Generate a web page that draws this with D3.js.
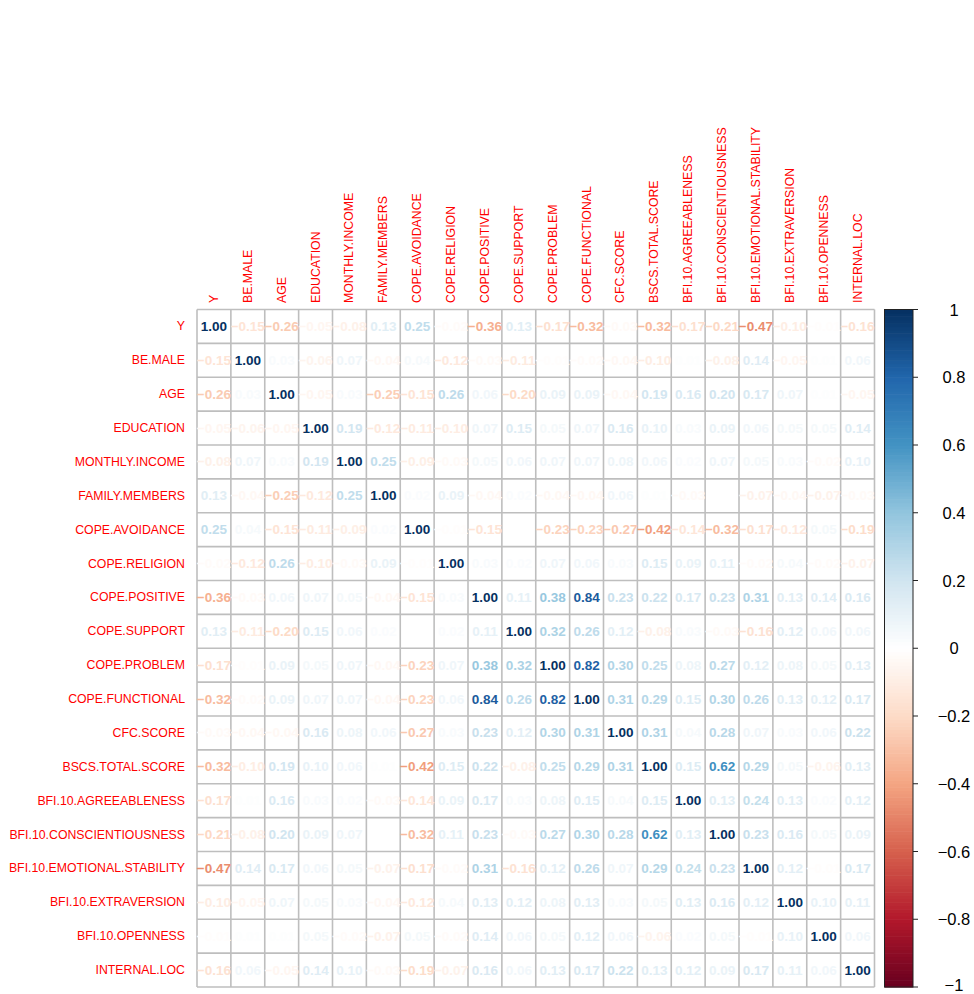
<!DOCTYPE html>
<html>
<head>
<meta charset="utf-8">
<script src="https://cdn.jsdelivr.net/npm/d3@7"></script>
<style>
  html, body { margin: 0; padding: 0; background: #fff; }
  svg { display: block; }
  text { font-family: "Liberation Sans", Arial, Helvetica, sans-serif; }
</style>
</head>
<body>
<svg id="chart" width="974" height="994"></svg>
<script>
// ---- data ----
const variables = ["Y","BE.MALE","AGE","EDUCATION","MONTHLY.INCOME","FAMILY.MEMBERS",
  "COPE.AVOIDANCE","COPE.RELIGION","COPE.POSITIVE","COPE.SUPPORT","COPE.PROBLEM",
  "COPE.FUNCTIONAL","CFC.SCORE","BSCS.TOTAL.SCORE","BFI.10.AGREEABLENESS",
  "BFI.10.CONSCIENTIOUSNESS","BFI.10.EMOTIONAL.STABILITY","BFI.10.EXTRAVERSION",
  "BFI.10.OPENNESS","INTERNAL.LOC"];

// lower triangle of the correlation matrix (row i holds columns 0..i)
const lowerTriangle = [
  [1],
  [-0.15, 1],
  [-0.26, 0.03, 1],
  [-0.05, -0.06, -0.05, 1],
  [-0.08, 0.07, 0.03, 0.19, 1],
  [0.13, -0.04, -0.25, -0.12, 0.25, 1],
  [0.25, 0.04, -0.15, -0.11, -0.09, 0.02, 1],
  [-0.02, -0.12, 0.26, -0.10, -0.03, 0.09, -0.01, 1],
  [-0.36, -0.03, 0.06, 0.07, 0.05, -0.04, -0.15, 0.03, 1],
  [0.13, -0.11, -0.20, 0.15, 0.06, 0.02, 0.00, 0.02, 0.11, 1],
  [-0.17, -0.01, 0.09, 0.05, 0.07, -0.04, -0.23, 0.07, 0.38, 0.32, 1],
  [-0.32, -0.02, 0.09, 0.07, 0.07, -0.04, -0.23, 0.06, 0.84, 0.26, 0.82, 1],
  [-0.03, -0.04, -0.04, 0.16, 0.08, 0.06, -0.27, 0.03, 0.23, 0.12, 0.30, 0.31, 1],
  [-0.32, -0.10, 0.19, 0.10, 0.06, 0.01, -0.42, 0.15, 0.22, -0.08, 0.25, 0.29, 0.31, 1],
  [-0.17, 0.01, 0.16, 0.03, 0.02, -0.03, -0.14, 0.09, 0.17, 0.03, 0.08, 0.15, 0.04, 0.15, 1],
  [-0.21, -0.08, 0.20, 0.09, 0.07, 0.00, -0.32, 0.11, 0.23, -0.03, 0.27, 0.30, 0.28, 0.62, 0.13, 1],
  [-0.47, 0.14, 0.17, 0.06, 0.05, -0.07, -0.17, -0.02, 0.31, -0.16, 0.12, 0.26, 0.07, 0.29, 0.24, 0.23, 1],
  [-0.10, -0.05, 0.07, 0.05, 0.03, -0.04, -0.12, 0.04, 0.13, 0.12, 0.08, 0.13, 0.03, 0.05, 0.13, 0.16, 0.12, 1],
  [-0.01, 0.01, 0.01, 0.05, -0.02, -0.07, 0.05, -0.02, 0.14, 0.06, 0.05, 0.12, 0.06, -0.06, 0.02, 0.05, -0.01, 0.10, 1],
  [-0.16, 0.06, -0.05, 0.14, 0.10, -0.03, -0.19, -0.07, 0.16, 0.06, 0.13, 0.17, 0.22, 0.13, 0.12, 0.09, 0.17, 0.11, 0.06, 1]
];

const legendTicks = [1, 0.8, 0.6, 0.4, 0.2, 0, -0.2, -0.4, -0.6, -0.8, -1];
const paletteStops = ["#67001F","#B2182B","#D6604D","#F4A582","#FDDBC7","#FFFFFF",
                      "#D1E5F0","#92C5DE","#4393C3","#2166AC","#053061"];

// ---- build cells ----
const cells = [];
variables.forEach((rv, i) => {
  variables.forEach((cv, j) => {
    const v = i >= j ? lowerTriangle[i][j] : lowerTriangle[j][i];
    cells.push({row: rv, col: cv, value: v});
  });
});

// ---- layout ----
const gridLeft = 197, gridRight = 874.5, gridTop = 309.5;
const gridBottom = gridTop + (gridRight - gridLeft);

const svg = d3.select("#chart");
const x = d3.scaleBand().domain(variables).range([gridLeft, gridRight]);
const y = d3.scaleBand().domain(variables).range([gridTop, gridBottom]);
const color = d3.scaleLinear()
  .domain(d3.range(paletteStops.length).map(k => -1 + 2 * k / (paletteStops.length - 1)))
  .range(paletteStops)
  .interpolate(d3.interpolateRgb)
  .clamp(true);

const fmt = v => {
  const s = Math.abs(v).toFixed(2);
  return (v < 0 && s !== "0.00" ? "\u2212" : "") + s;
};

// cell backgrounds
svg.append("g").selectAll("rect").data(cells).join("rect")
  .attr("x", d => x(d.col)).attr("y", d => y(d.row))
  .attr("width", x.bandwidth()).attr("height", y.bandwidth())
  .attr("fill", "#ffffff");

// grid lines
const grid = svg.append("g").attr("stroke", "#BEBEBE").attr("stroke-width", 1.6);
d3.range(variables.length + 1).forEach(k => {
  const px = gridLeft + k * x.step();
  const py = gridTop + k * y.step();
  grid.append("line").attr("x1", px).attr("x2", px).attr("y1", gridTop).attr("y2", gridBottom);
  grid.append("line").attr("x1", gridLeft).attr("x2", gridRight).attr("y1", py).attr("y2", py);
});

// numbers
svg.append("g").selectAll("text").data(cells).join("text")
  .attr("x", d => x(d.col) + x.bandwidth() / 2)
  .attr("y", d => y(d.row) + y.bandwidth() / 2)
  .attr("text-anchor", "middle")
  .attr("dominant-baseline", "central")
  .attr("font-size", 13.5)
  .attr("font-weight", "bold")
  .attr("fill", d => color(d.value))
  .text(d => fmt(d.value));

// row labels
svg.append("g").selectAll("text").data(variables).join("text")
  .attr("x", 185)
  .attr("y", d => y(d) + y.bandwidth() / 2)
  .attr("text-anchor", "end")
  .attr("dominant-baseline", "central")
  .attr("font-size", 12.3)
  .attr("fill", "#FF0000")
  .text(d => d);

// column labels
svg.append("g").selectAll("text").data(variables).join("text")
  .attr("transform", d => `translate(${x(d) + x.bandwidth() / 2},303) rotate(-90)`)
  .attr("text-anchor", "start")
  .attr("dominant-baseline", "central")
  .attr("font-size", 12.3)
  .attr("fill", "#FF0000")
  .text(d => d);

// ---- color legend ----
const barLeft = 884.5, barRight = 913;
const ly = d3.scaleLinear().domain([-1, 1]).range([gridBottom, gridTop]);
const nSteps = 200;
const steps = d3.range(nSteps).map(k => -1 + 2 * k / nSteps);
svg.append("g").selectAll("rect").data(steps).join("rect")
  .attr("x", barLeft)
  .attr("width", barRight - barLeft)
  .attr("y", d => ly(d + 2 / nSteps))
  .attr("height", d => ly(d) - ly(d + 2 / nSteps) + 0.6)
  .attr("fill", d => color(d + 1 / nSteps));
svg.append("rect")
  .attr("x", barLeft).attr("y", gridTop)
  .attr("width", barRight - barLeft).attr("height", gridBottom - gridTop)
  .attr("fill", "none").attr("stroke", "#222").attr("stroke-width", 1);

const lg = svg.append("g");
lg.selectAll("line").data(legendTicks).join("line")
  .attr("x1", barRight).attr("x2", barRight + 5)
  .attr("y1", d => ly(d)).attr("y2", d => ly(d))
  .attr("stroke", "#222").attr("stroke-width", 1);
lg.selectAll("text").data(legendTicks).join("text")
  .attr("x", 954)
  .attr("y", d => Math.min(ly(d), 985))
  .attr("text-anchor", "middle")
  .attr("dominant-baseline", "central")
  .attr("font-size", 16.5)
  .attr("fill", "#000")
  .text(d => (d < 0 ? "\u2212" : "") + String(Math.abs(d)));
</script>
</body>
</html>
